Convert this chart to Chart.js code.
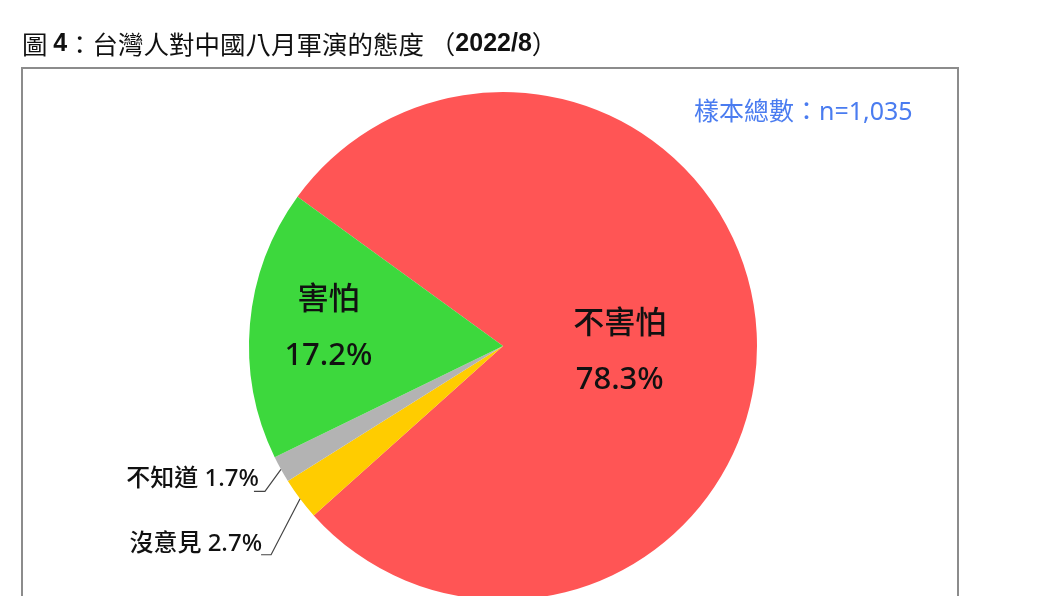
<!DOCTYPE html>
<html>
<head>
<meta charset="utf-8">
<script src="https://cdn.jsdelivr.net/npm/chart.js@4.4.0/dist/chart.umd.min.js"></script>
<style>
  html, body { margin: 0; padding: 0; background: #fff; }
  #wrap { width: 1060px; height: 596px; overflow: hidden; }
  canvas { display: block; }
</style>
</head>
<body>
<div id="wrap"><canvas id="pie" width="1060" height="660"></canvas></div>
<script>
// 資料
const categories = ['不害怕', '沒意見', '不知道', '害怕'];
const percents = [78.3, 2.7, 1.7, 17.2];
const sliceColors = ['#ff5555', '#ffcc00', '#b3b3b3', '#3dd83d'];
const sampleNote = '樣本總數：n=1,035';
const titleParts = [['圖 ', false], ['4', true], ['：台灣人對中國八月軍演的態度 （', false], ['2022/8', true], ['）', false]];

const cjkFont = '"Noto Sans", "Noto Sans CJK TC", sans-serif';

// 標題與外框
const frame = {
    id: 'frame',
    beforeDraw(chart) {
        const c = chart.ctx;
        c.save();
        c.fillStyle = '#fff';
        c.fillRect(0, 0, chart.width, chart.height);
        c.strokeStyle = '#8c8c8c';
        c.lineWidth = 2;
        c.strokeRect(22, 68, 936, 700);

        let x = 22;
        c.textBaseline = 'middle';
        c.fillStyle = '#111';
        titleParts.forEach(([text, bold]) => {
            c.font = bold ? 'bold 25px "Liberation Sans", Arial, sans-serif' : '25.5px "Noto Sans CJK TC", sans-serif';
            c.fillText(text, x, 44);
            x += c.measureText(text).width;
        });

        c.fillStyle = '#4a7cf0';
        c.font = '25px ' + cjkFont;
        c.fillText(sampleNote, 694, 113);
        c.restore();
    }
};

// 扇形標籤
const insideShift = { 0: { f: 0.46, dy: 12 }, 3: { f: 0.69, dy: -3 } };
const callouts = {
    1: { ex: -29, ey: 56, hx: -39, tx: -38, ty: 45 },
    2: { ex: -16, ey: 22, hx: -27, tx: -22, ty: 10 }
};
const sliceLabels = {
    id: 'sliceLabels',
    afterDatasetsDraw(chart) {
        const c = chart.ctx;
        const arcs = chart.getDatasetMeta(0).data;
        c.save();
        c.fillStyle = '#111';
        c.textBaseline = 'middle';
        arcs.forEach((arc, i) => {
            const { x, y, startAngle, endAngle, outerRadius } =
                arc.getProps(['x', 'y', 'startAngle', 'endAngle', 'outerRadius'], true);
            const mid = (startAngle + endAngle) / 2;
            const pct = percents[i].toFixed(1) + '%';
            if (insideShift[i]) {
                const s = insideShift[i];
                const cx = x + Math.cos(mid) * outerRadius * s.f;
                const cy = y + Math.sin(mid) * outerRadius * s.f + s.dy;
                c.font = '500 31px ' + cjkFont;
                c.textAlign = 'center';
                c.fillText(categories[i], cx, cy - 28);
                c.fillText(pct, cx, cy + 28);
            } else {
                const o = callouts[i];
                const ax = x + Math.cos(mid) * outerRadius;
                const ay = y + Math.sin(mid) * outerRadius;
                c.strokeStyle = '#444';
                c.lineWidth = 1.2;
                c.beginPath();
                c.moveTo(ax, ay);
                c.lineTo(ax + o.ex, ay + o.ey);
                c.lineTo(ax + o.hx, ay + o.ey);
                c.stroke();
                c.font = '500 24px ' + cjkFont;
                c.textAlign = 'right';
                c.fillText(categories[i] + ' ' + pct, ax + o.tx, ay + o.ty);
            }
        });
        c.restore();
    }
};

const ctx = document.getElementById('pie').getContext('2d');
const chart = new Chart(ctx, {
    type: 'pie',
    data: {
        labels: categories,
        datasets: [{
            data: percents,
            backgroundColor: sliceColors,
            borderWidth: 0,
            offset: 0,
            hoverOffset: 0
        }]
    },
    options: {
        responsive: false,
        animation: false,
        devicePixelRatio: 1,
        rotation: 306,
        layout: { padding: { left: 249, right: 303, top: 92, bottom: 60 } },
        plugins: {
            legend: { display: false },
            tooltip: { enabled: false }
        }
    },
    plugins: [frame, sliceLabels]
});
</script>
</body>
</html>
